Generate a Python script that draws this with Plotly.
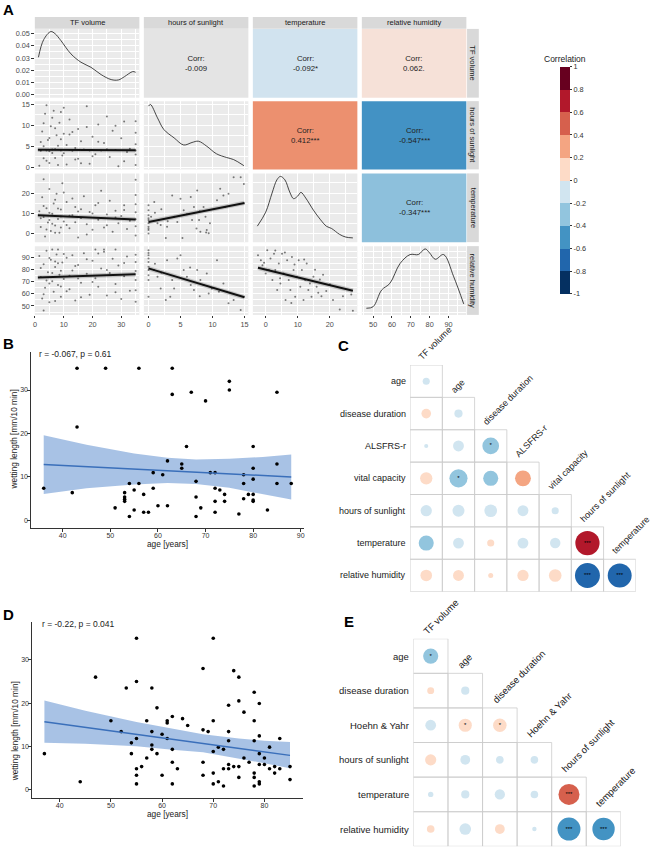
import plotly.graph_objects as go

W, H = 654, 849
FONT = "Liberation Sans, Arial, sans-serif"


def fx(p):
    return p / W


def fy(p):
    return 1 - p / H


# ======================= DATA =======================
# ---- Panel A (pairs plot) ----
pair_vars = ["TF volume", "hours of sunlight", "temperature", "relative humidity"]
corr_cells = [(0, 1), (0, 2), (0, 3), (1, 2), (1, 3), (2, 3)]
corr_values = [-0.009, -0.092, 0.062, 0.412, -0.547, -0.347]
corr_marks = ["", "*", ".", "***", "***", "***"]

# diagonal densities
tf_dens_x = [1.2, 3, 5.5, 7, 9, 12.5, 16, 19.5, 23, 26.5, 29, 31.1, 34, 35]
tf_dens_y = [0.0306, 0.045, 0.0518, 0.050, 0.0444, 0.0334, 0.0265, 0.0223, 0.0163,
             0.0122, 0.0119, 0.0146, 0.0188, 0.0182]
hs_dens_x = [0, 0.3, 1.4, 2.4, 4, 5.5, 6.8, 7.8, 9.1, 10.6, 12.2, 13.3, 14.9]
hs_dens_y = [14.6, 15.0, 11.8, 9.0, 7.0, 5.3, 5.9, 6.2, 5.0, 3.2, 2.3, 1.8, 0.34]
temp_dens_x = [-2.6, 0, 2, 3.5, 4.6, 6, 7.5, 8.7, 10, 11, 12.5, 14.9, 17, 19, 20.5, 23.1, 25, 27.2]
temp_dens_y = [3.6, 10.5, 20, 26.5, 28.2, 26.5, 20.5, 17.2, 18.5, 20.3, 17.5, 11.5, 7, 3.5,
               2.5, -0.5, -1.8, -2.2]
rh_dens_x = [46.4, 50, 54.5, 58.9, 64.3, 69.6, 74, 77.6, 80, 83, 87.4, 92.8, 98.1]
rh_dens_y = [48.1, 49.4, 63.2, 68.8, 85.3, 92.7, 92.7, 97.4, 94, 88.8, 92.7, 74.2, 51.7]

# scatter panels (x variable = column, y variable = row)
tf_hs = [(1.5, 0.3), (2, 4.1), (2.5, 8.5), (3, 2.1), (3.5, 12.8), (4, 4.0), (4.5, 6.5), (5, 1.0),
         (5.5, 9.8), (6, 3.4), (6.5, 13.5), (7, 4.3), (7.5, 7.6), (8, 0.5), (8.5, 10.6), (9, 4.0),
         (9.5, 2.8), (10, 8.0), (11, 5.3), (12, 11.4), (13, 3.9), (14, 1.8), (15, 9.1), (16, 6.2),
         (17, 4.2), (18, 14.6), (19, 0.8), (20, 7.3), (21, 3.1), (22, 10.2), (23, 4.0), (24, 5.8),
         (25, 12.1), (26, 2.4), (27, 8.7), (28, 4.1), (29, 0.2), (30, 6.9), (31, 10.9), (32, 3.6),
         (33, 4.4), (35, 0.5), (35, 3.0), (35, 5.5), (35, 8.2), (35, 11.0), (35, 4.0), (2, 6.0),
         (3, 10.5), (4, 1.5), (5, 7.0), (6, 11.8), (7, 2.2), (8, 5.1), (9, 13.2), (10, 3.3),
         (12, 7.8), (14, 4.6), (16, 0.9), (18, 9.6), (20, 2.6), (22, 6.1), (25, 4.3), (28, 9.9),
         (31, 1.4), (3, 5.0), (5, 3.8), (7, 9.3), (9, 6.7), (11, 0.6), (13, 8.4), (15, 2.0),
         (4, 14.8), (10, 14.2), (2, 3.9), (6, 4.2), (12, 4.1), (19, 4.0)]
tf_temp = [(1.5, 11.0), (2, 3.2), (2.5, 17.9), (3, 8.1), (3.5, -1.5), (4, 12.5), (4.5, 5.4),
           (5, 22.0), (5.5, 1.2), (6, 9.7), (6.5, 14.8), (7, 3.9), (7.5, 19.6), (8, 7.2), (8.5, 0.4),
           (9, 11.8), (9.5, 24.8), (10, 5.9), (11, 15.5), (12, 2.6), (13, 9.0), (14, 13.1),
           (15, -2.0), (16, 7.7), (17, 18.4), (18, 4.5), (19, 10.6), (20, 1.8), (21, 13.9),
           (22, 6.8), (23, 21.1), (24, 3.0), (25, 9.4), (26, 16.2), (27, 0.9), (28, 11.2),
           (29, 5.1), (30, 8.6), (31, 14.0), (32, 2.2), (33, 6.3), (35, -1.0), (35, 3.5), (35, 7.0),
           (35, 10.5), (35, 14.5), (35, 19.0), (35, 26.5), (2, 7.5), (3, 13.6), (4, 1.9), (5, 10.2),
           (6, 4.8), (7, 16.7), (8, 12.3), (9, 2.9), (10, 20.2), (12, 8.8), (14, 5.6), (16, 12.0),
           (18, -0.5), (20, 9.9), (22, 15.1), (25, 4.0), (28, 7.9), (31, 11.6), (3, 26.8), (5, 6.6),
           (7, 0.3), (9, 8.4), (11, 4.2), (13, 17.3), (15, 10.9)]
tf_rh = [(1.5, 91.5), (2, 74.0), (2.5, 56.3), (3, 84.7), (3.5, 65.2), (4, 95.8), (4.5, 78.1),
         (5, 53.0), (5.5, 88.4), (6, 70.6), (6.5, 61.9), (7, 82.3), (7.5, 92.8), (8, 67.5),
         (8.5, 75.9), (9, 57.7), (9.5, 86.2), (10, 72.4), (11, 90.1), (12, 63.8), (13, 79.5),
         (14, 54.6), (15, 84.0), (16, 69.3), (17, 93.7), (18, 76.8), (19, 59.4), (20, 87.5),
         (21, 73.1), (22, 65.9), (23, 81.2), (24, 95.1), (25, 58.6), (26, 77.4), (27, 89.3),
         (28, 68.2), (29, 83.6), (30, 55.8), (31, 74.7), (32, 91.0), (33, 62.7), (35, 53.5),
         (35, 63.0), (35, 71.5), (35, 79.0), (35, 86.5), (35, 92.5), (2, 81.6), (3, 59.8),
         (4, 71.2), (5, 89.9), (6, 77.3), (7, 54.1), (8, 85.4), (9, 66.1), (10, 93.2), (12, 75.0),
         (14, 83.2), (16, 57.3), (18, 88.9), (20, 70.0), (22, 93.6), (25, 79.8), (28, 61.4),
         (31, 85.7), (3, 46.2), (5, 68.7), (7, 87.0), (9, 79.2), (11, 62.3), (13, 92.1), (15, 72.8),
         (6, 97.0), (8, 97.0), (21, 97.0), (24, 97.0), (28, 97.0)]
hs_temp = [(0, 13.9), (0, 11.5), (0, 9.0), (0, 6.6), (0, 5.0), (0, 3.3), (0, 1.7), (0, 0.0),
           (0.4, 8.2), (0.9, 15.5), (1.4, 5.0), (1.9, 4.2), (2.7, -2.3), (2.9, 3.3), (3.7, 18.8),
           (4.0, 8.2), (4.5, 5.7), (5.0, 17.2), (5.3, -2.3), (5.5, 11.5), (6.6, 18.0), (6.8, 6.6),
           (7.1, 13.1), (7.6, 21.3), (7.9, 6.6), (8.1, 0.9), (8.6, 13.1), (8.9, 8.2), (9.1, 1.7),
           (9.4, 0.1), (9.6, 5.0), (10.7, 16.4), (11.2, 22.1), (11.7, 18.8), (12.5, 19.6),
           (13.3, 27.8), (14.4, 27.8), (14.9, 24.5), (12.0, 13.1), (0, 7.5), (0, 2.5), (1.0, 10.2),
           (2.0, 12.0), (3.0, 6.0), (6.0, 9.5), (7.5, 2.5), (8.0, 11.0), (9.0, 0.5)]
hs_rh = [(0, 96.3), (0, 92.1), (0, 89.4), (0, 86.6), (0, 82.5), (0, 79.8), (0, 75.6), (0, 71.5),
         (0, 57.7), (0.9, 79.8), (1.4, 74.3), (1.9, 64.6), (2.7, 55.0), (2.9, 88.0), (3.7, 71.5),
         (4.0, 64.6), (4.5, 89.4), (5.0, 92.1), (5.5, 79.8), (6.0, 74.3), (6.6, 67.4), (7.1, 63.2),
         (7.6, 79.8), (8.1, 71.5), (8.6, 67.4), (9.1, 77.0), (9.4, 60.4), (9.9, 64.6), (10.7, 88.0),
         (11.0, 61.8), (11.7, 68.7), (12.5, 52.2), (13.3, 55.0), (14.4, 46.7), (3.4, 57.7),
         (0, 94.0), (1.0, 85.0), (2.0, 77.5), (6.5, 82.0), (8.0, 58.0)]
temp_rh = [(-2.4, 92.1), (-1.5, 88.0), (-1, 83.9), (0, 77.0), (0.5, 96.3), (1.0, 79.8), (1.5, 89.4),
           (2.1, 71.5), (2.6, 93.4), (3.0, 79.8), (3.6, 63.2), (4.1, 85.2), (4.6, 68.7), (5.1, 93.4),
           (5.6, 77.0), (6.2, 55.0), (6.7, 88.0), (7.2, 71.5), (7.7, 63.2), (8.2, 90.7), (8.7, 79.8),
           (9.2, 57.7), (9.7, 74.3), (10.3, 88.0), (10.8, 65.9), (11.3, 79.8), (11.8, 55.0),
           (12.3, 71.5), (12.8, 85.2), (13.3, 63.2), (13.8, 68.7), (14.3, 57.7), (14.9, 74.3),
           (15.4, 80.0), (15.9, 66.0), (16.4, 61.0), (16.9, 72.0), (17.4, 58.0), (17.9, 76.0),
           (18.9, 62.5), (20.0, 68.0), (21.0, 55.0), (23.1, 47.0), (24.1, 58.0), (26.7, 59.5),
           (27.2, 46.0), (3.0, 96.0), (6.0, 94.5), (9.0, 84.5), (12.0, 88.5), (-0.5, 86.0),
           (4.5, 73.0), (8.0, 52.5)]
# fitted lines in scatter panels (x ends, y ends)
fit_tf_hs = ([1, 35], [4.15, 4.05])
fit_tf_temp = ([1, 35], [9.0, 6.9])
fit_tf_rh = ([1, 35], [73.7, 76.4])
fit_hs_temp = ([0, 15], [5.7, 15.1])
fit_hs_rh = ([0, 15], [81.2, 57.2])
fit_temp_rh = ([-2.4, 27.2], [81.7, 62.6])

# colour legend
legend_breaks = [1, 0.8, 0.6, 0.4, 0.2, 0, -0.2, -0.4, -0.6, -0.8, -1]
legend_labels = ["1", "0.8", "0.6", "0.4", "0.2", "0", "-0.2", "-0.4", "-0.6", "-0.8", "-1"]

# ---- Panel B ----
b_age = [36, 43, 49, 56, 63, 75, 75, 85, 67, 63, 70, 43, 42, 66, 80, 62, 65, 65, 85, 80, 59, 61, 71,
         72, 78, 80, 68, 54, 56, 78, 85, 88, 59, 72, 73, 55, 53, 57, 74, 79, 80, 53, 53, 53, 68, 78,
         72, 74, 80, 80, 60, 62, 51, 69, 55, 83, 57, 58, 72, 77, 54, 68]
b_wet = [7.4, 35, 35, 35, 35, 32, 30, 29.5, 29.5, 29, 27.5, 21.5, 6.4, 17, 17, 13.7, 13, 12, 13, 12,
         11, 10.5, 11, 11, 10.5, 9.5, 9, 8.5, 8.5, 8.5, 8.5, 8.5, 7.4, 7.4, 7, 7, 6.4, 6, 6, 6, 6,
         5.4, 4.9, 4.4, 5.4, 5, 4.4, 4.4, 4.7, 4.4, 3.4, 3.4, 2.9, 2.9, 2.4, 2.4, 1.9, 1.9, 1.9,
         1.5, 0.9, 0.9]
b_fit_age = [36, 45, 55, 62, 68, 75, 82, 88]
b_fit = [12.9, 12.4, 11.8, 11.4, 11.1, 10.7, 10.3, 10.0]
b_fit_hi = [19.6, 17.4, 15.4, 14.4, 14.0, 14.2, 14.6, 15.2]
b_fit_lo = [6.1, 7.4, 8.3, 8.6, 8.4, 7.5, 6.1, 4.8]
b_label = "r = -0.067, p = 0.61"

# ---- Panel D ----
d_age = [37, 44, 47, 50, 52, 53, 54, 54, 55, 55, 55, 55, 55, 55, 56, 57, 57, 58, 58, 58, 58, 59, 59,
         60, 60, 61, 61, 61, 62, 62, 62, 62, 63, 64, 65, 68, 68, 68, 68, 69, 70, 70, 70, 70, 70, 71,
         71, 72, 72, 72, 73, 73, 73, 73, 73, 74, 74, 75, 75, 75, 75, 76, 76, 77, 78, 78, 78, 78, 78,
         78, 79, 79, 79, 79, 79, 79, 80, 80, 81, 81, 82, 82, 83, 83, 85, 85]
d_wet = [8.3, 1.8, 26, 15.9, 13.4, 23.5, 10.8, 8.3, 35, 25, 11.8, 4.8, 3.3, 1.3, 5.3, 15.9, 7.3,
         23.5, 13.4, 10.3, 9.3, 18.9, 8.3, 12.8, 3.3, 15.9, 15.4, 11.8, 16.9, 9.3, 6.3, 1.3, 4.8,
         16.4, 14.8, 28, 13.8, 6.3, 3.3, 13.4, 35, 15.9, 8.8, 3.8, 1.3, 9.8, 1.8, 9.3, 4.8, 0.8,
         19.5, 13.4, 11.3, 5.8, 4.8, 27.5, 5.3, 26, 20.5, 5.3, 2.8, 17.9, 7.3, 6.3, 22.5, 15.9,
         11.3, 3.8, 2.8, 0.8, 19.9, 12.4, 8.3, 5.8, 1.8, 1.3, 7.3, 5.8, 9.8, 4.8, 5.3, 3.8, 11.8,
         4.8, 5.3, 2.3]
d_fit_age = [37, 45, 55, 62, 68, 75, 80, 85]
d_fit = [15.7, 14.4, 12.8, 11.6, 10.7, 9.5, 8.7, 7.9]
d_fit_hi = [20.6, 18.2, 15.6, 14.0, 12.8, 11.8, 11.3, 11.0]
d_fit_lo = [10.8, 10.6, 10.0, 9.2, 8.6, 7.2, 6.1, 4.9]
d_label = "r = -0.22, p = 0.041"

# ---- Panel C (correlogram) ----
c_rows = ["age", "disease duration", "ALSFRS-r", "vital capacity", "hours of sunlight",
          "temperature", "relative humidity"]
c_cols = ["TF volume", "age", "disease duration", "ALSFRS-r", "vital capacity",
          "hours of sunlight", "temperature"]
c_r = [[-0.06],
       [0.11, -0.08],
       [-0.02, -0.14, -0.33],
       [0.18, -0.39, -0.27, 0.30],
       [-0.15, -0.17, -0.19, -0.14, -0.06],
       [-0.27, -0.14, 0.06, -0.14, -0.13, 0.70],
       [0.16, 0.14, 0.03, 0.15, 0.19, -0.74, -0.68]]
c_sig = [[""], ["", ""], ["", "", "*"], ["", "*", "", ""], ["", "", "", "", ""],
         ["", "", "", "", "", "***"], ["", "", "", "", "", "***", "***"]]

# ---- Panel E (correlogram) ----
e_rows = ["age", "disease duration", "Hoehn & Yahr", "hours of sunlight", "temperature",
          "relative humidity"]
e_cols = ["TF volume", "age", "disease duration", "Hoehn & Yahr", "hours of sunlight",
          "temperature"]
e_r = [[-0.24],
       [0.05, -0.07],
       [-0.12, 0.18, 0.19],
       [0.13, -0.10, -0.06, -0.06],
       [-0.03, -0.07, -0.11, -0.06, 0.46],
       [0.06, -0.14, 0.10, -0.02, -0.55, -0.52]]
e_sig = [["*"], ["", ""], ["", "*", "*"], ["", "", "", ""], ["", "", "", "", "***"],
         ["", "", "", "", "***", "***"]]

# ======================= STYLE =======================
RDBU = ["#053061", "#2166AC", "#4393C3", "#92C5DE", "#D1E5F0",
        "#FDDBC7", "#F4A582", "#D6604D", "#B2182B", "#67001F"]
tile_colors = ["#E4E4E4", "#D1E3EF", "#F6E1D8", "#EC906F", "#4392C4", "#8DC0DC"]


def rdbu(r):
    k = int((r + 1) / 0.2)
    return RDBU[max(0, min(9, k))]


layout = {}
shapes = []
annotations = []
traces = []
ax_n = [0]


def new_axes(xd, yd, xkw, ykw):
    ax_n[0] += 1
    n = ax_n[0]
    s = "" if n == 1 else str(n)
    layout["xaxis" + s] = dict(domain=xd, anchor="y" + s, **xkw)
    layout["yaxis" + s] = dict(domain=yd, anchor="x" + s, **ykw)
    return "x" + s, "y" + s


def text(x, y, t, size, color="#1A1A1A", xa="center", ya="middle", angle=0, bold=False):
    annotations.append(dict(x=fx(x), y=fy(y), xref="paper", yref="paper",
                            text=("<b>%s</b>" % t) if bold else t, borderpad=0,
                            showarrow=False, xanchor=xa, yanchor=ya, textangle=angle,
                            font=dict(size=size, color=color, family=FONT)))


# ======================= PANEL A =======================
cols_px = [(33, 138), (142.5, 247.5), (252, 357), (361.5, 466.5)]
rows_px = [(28, 97), (100.5, 169), (173, 242), (246, 315)]
xr = [(-0.05, 36.3), (-0.73, 15.6), (-4, 28.6), (44, 99.5)]
yr = [(-0.0027, 0.054), (-0.55, 15.8), (-4.3, 29.7), (42.6, 99.7)]
xt = [(0, 10), (0, 5), (0, 10), (50, 10)]
yt = [(0, 0.01), (0, 5), (0, 10), (50, 10)]
diag = {0: (tf_dens_x, tf_dens_y), 1: (hs_dens_x, hs_dens_y),
        2: (temp_dens_x, temp_dens_y), 3: (rh_dens_x, rh_dens_y)}
lower = {(1, 0): (tf_hs, fit_tf_hs), (2, 0): (tf_temp, fit_tf_temp), (3, 0): (tf_rh, fit_tf_rh),
         (2, 1): (hs_temp, fit_hs_temp), (3, 1): (hs_rh, fit_hs_rh), (3, 2): (temp_rh, fit_temp_rh)}

tickfontA = dict(size=7.3, color="#4D4D4D", family=FONT)
first_ref = None
for i in range(4):
    for j in range(4):
        (x0, x1), (y0, y1) = cols_px[j], rows_px[i]
        if j > i:
            k = corr_cells.index((i, j))
            shapes.append(dict(type="rect", xref="paper", yref="paper", x0=fx(x0), x1=fx(x1),
                               y0=fy(y1), y1=fy(y0), fillcolor=tile_colors[k], line=dict(width=0),
                               layer="below"))
            text((x0 + x1) / 2, (y0 + y1) / 2,
                 "Corr:<br>%s%s" % (("%.3f" % corr_values[k]), corr_marks[k]), 7.8, "#222222")
            continue
        xkw = dict(range=list(xr[j]), tickmode="linear", tick0=xt[j][0], dtick=xt[j][1],
                   showgrid=True, gridcolor="white", gridwidth=1, zeroline=False,
                   minor=dict(showgrid=True, gridcolor="white", gridwidth=0.5,
                              tick0=xt[j][0], dtick=xt[j][1] / 2),
                   showticklabels=(i == 3), ticks="outside" if i == 3 else "", ticklen=2.5,
                   tickcolor="#333333", tickwidth=0.8, tickfont=tickfontA, showline=False)
        ykw = dict(range=list(yr[i]), tickmode="linear", tick0=yt[i][0], dtick=yt[i][1],
                   showgrid=True, gridcolor="white", gridwidth=1, zeroline=False,
                   minor=dict(showgrid=True, gridcolor="white", gridwidth=0.5,
                              tick0=yt[i][0], dtick=yt[i][1] / 2),
                   showticklabels=(j == 0), ticks="outside" if j == 0 else "", ticklen=2.5,
                   tickcolor="#333333", tickwidth=0.8, tickfont=tickfontA, showline=False,
                   tickformat=".2f" if i == 0 else "")
        xa, ya = new_axes([fx(x0), fx(x1)], [fy(y1), fy(y0)], xkw, ykw)
        if first_ref is None:
            first_ref = (xa, ya)
        shapes.append(dict(type="rect", xref=xa + " domain", yref=ya + " domain", x0=0, x1=1,
                           y0=0, y1=1, fillcolor="#EBEBEB", line=dict(width=0), layer="below"))
        if i == j:
            dxv, dyv = diag[i]
            traces.append(go.Scatter(x=dxv, y=dyv, mode="lines", line=dict(color="#1A1A1A", width=0.8,
                                     shape="spline", smoothing=1.0), xaxis=xa, yaxis=ya,
                                     hoverinfo="skip"))
        else:
            pts, fit = lower[(i, j)]
            traces.append(go.Scatter(x=[p[0] for p in pts], y=[p[1] for p in pts], mode="markers",
                                     marker=dict(size=2, color="rgba(0,0,0,0.5)"), xaxis=xa, yaxis=ya,
                                     hoverinfo="skip"))
            traces.append(go.Scatter(x=fit[0], y=fit[1], mode="lines",
                                     line=dict(color="rgba(0,0,0,0.18)", width=4.5), xaxis=xa,
                                     yaxis=ya, hoverinfo="skip"))
            traces.append(go.Scatter(x=fit[0], y=fit[1], mode="lines",
                                     line=dict(color="#111111", width=2), xaxis=xa, yaxis=ya,
                                     hoverinfo="skip"))

# strips
for j in range(4):
    x0, x1 = cols_px[j]
    shapes.append(dict(type="rect", xref="paper", yref="paper", x0=fx(x0), x1=fx(x1), y0=fy(27.8),
                       y1=fy(16), fillcolor="#D9D9D9", line=dict(width=0)))
    text((x0 + x1) / 2, 22, pair_vars[j], 7.5, "#1A1A1A")
for i in range(4):
    y0, y1 = rows_px[i]
    shapes.append(dict(type="rect", xref="paper", yref="paper", x0=fx(467.2), x1=fx(479),
                       y0=fy(y1), y1=fy(y0), fillcolor="#D9D9D9", line=dict(width=0)))
    text(473.1, (y0 + y1) / 2, pair_vars[i], 7.5, "#1A1A1A", angle=90)

# colour legend
cs = []
for k, c in enumerate(RDBU):
    cs.append([k / 10, c])
    cs.append([(k + 1) / 10, c])
traces.append(go.Scatter(x=[None], y=[None], mode="markers", xaxis=first_ref[0], yaxis=first_ref[1],
                         hoverinfo="skip",
                         marker=dict(color=[0], cmin=-1, cmax=1, colorscale=cs, showscale=True,
                                     colorbar=dict(x=fx(561), xanchor="left", y=fy(180),
                                                   yanchor="middle", len=228 / H, lenmode="fraction",
                                                   thickness=10, thicknessmode="pixels",
                                                   outlinewidth=0, xpad=0, ypad=0,
                                                   tickvals=legend_breaks, ticktext=legend_labels,
                                                   ticks="outside", ticklen=2.5, tickcolor="#333333",
                                                   tickfont=dict(size=7.3, color="#333333",
                                                                 family=FONT)))))
text(566, 58, "Correlation", 8.5, "#1A1A1A")


# ======================= PANELS B & D =======================
def scatter_panel(xpx, ypx, xrange, yrange, xticks, ages, wet, fa, ff, fhi, flo, label, lab_xy,
                  title_x_y, title_y_xy):
    axkw = dict(showgrid=False, zeroline=False, showline=True, linecolor="#333333", linewidth=0.9,
                ticks="outside", ticklen=2.5, tickwidth=0.8, tickcolor="#333333",
                ticklabelstandoff=-2,
                tickfont=dict(size=7, color="#333333", family=FONT))
    xa, ya = new_axes([fx(xpx[0]), fx(xpx[1])], [fy(ypx[1]), fy(ypx[0])],
                      dict(range=xrange, tickvals=xticks, **axkw),
                      dict(range=yrange, tickvals=[0, 10, 20, 30], **axkw))
    traces.append(go.Scatter(x=fa + fa[::-1], y=fhi + flo[::-1], fill="toself",
                             fillcolor="rgba(62,120,198,0.45)", line=dict(width=0), mode="lines",
                             xaxis=xa, yaxis=ya, hoverinfo="skip"))
    traces.append(go.Scatter(x=ages, y=wet, mode="markers", marker=dict(size=3.6, color="black"),
                             xaxis=xa, yaxis=ya, hoverinfo="skip"))
    traces.append(go.Scatter(x=fa, y=ff, mode="lines", line=dict(color="#3A6FBA", width=1.5),
                             xaxis=xa, yaxis=ya, hoverinfo="skip"))
    text(lab_xy[0], lab_xy[1], label, 8.5, "#1A1A1A", xa="left")
    text(title_x_y[0], title_x_y[1], "age [years]", 8.3, "#1A1A1A")
    text(title_y_xy[0], title_y_xy[1], "wetting length [mm/10 min]", 8.3, "#1A1A1A", angle=-90)


scatter_panel((29, 303), (352, 529), [33.3, 90.6], [-1.76, 38.8], [40, 50, 60, 70, 80, 90],
              b_age, b_wet, b_fit_age, b_fit, b_fit_hi, b_fit_lo, b_label, (36, 354.5),
              (166, 545), (13, 440))
scatter_panel((30, 302.7), (623, 800), [34.55, 87.6], [-2.0, 38.8], [40, 50, 60, 70, 80],
              d_age, d_wet, d_fit_age, d_fit, d_fit_hi, d_fit_lo, d_label, (39.5, 625.5),
              (166, 816), (13, 733))


# ======================= PANELS C & E =======================
def corr_panel(x0, y0, cw, ch, rows, cols, rr, sig, dmax, fsize):
    n = len(rows)
    xa, ya = new_axes([fx(x0), fx(x0 + n * cw)], [fy(y0 + n * ch), fy(y0)],
                      dict(range=[-0.5, n - 0.5], visible=False),
                      dict(range=[n - 0.5, -0.5], visible=False))
    xs, ys, sz, colr, st = [], [], [], [], []
    for i in range(n):
        for j in range(i + 1):
            shapes.append(dict(type="rect", xref=xa, yref=ya, x0=j - 0.5, x1=j + 0.5, y0=i - 0.5,
                               y1=i + 0.5, line=dict(color="#CCCCCC", width=0.8),
                               fillcolor="rgba(0,0,0,0)", layer="below"))
            r = rr[i][j]
            xs.append(j)
            ys.append(i)
            sz.append(dmax * abs(r) ** 0.5)
            colr.append(rdbu(r))
            st.append(sig[i][j])
    traces.append(go.Scatter(x=xs, y=ys, mode="markers+text", text=st, textposition="middle center",
                             textfont=dict(size=6, color="black", family=FONT),
                             marker=dict(size=sz, color=colr, opacity=1, line=dict(width=0)),
                             xaxis=xa, yaxis=ya, hoverinfo="skip"))
    for i, name in enumerate(rows):
        text(x0 - 3, y0 + (i + 0.5) * ch, name, fsize, "#1A1A1A", xa="right")
    for j, name in enumerate(cols):
        text(x0 + (j + 0.5) * cw - 11, y0 + j * ch - 1.5, name, fsize, "#1A1A1A", xa="left",
             ya="bottom", angle=-45)


corr_panel(410, 365.3, 32.39, 32.49, c_rows, c_cols, c_r, c_sig, 29, 9)
corr_panel(413.3, 640, 34.73, 34.72, e_rows, e_cols, e_r, e_sig, 31, 9.5)

# panel letters
text(0, 8.5, "A", 15, "black", xa="left", bold=True)
text(0, 343.5, "B", 15, "black", xa="left", bold=True)
text(337, 346, "C", 15, "black", xa="left", bold=True)
text(0, 615.5, "D", 15, "black", xa="left", bold=True)
text(343, 622.5, "E", 15, "black", xa="left", bold=True)

fig = go.Figure(data=traces)
fig.update_layout(**layout)
fig.update_layout(width=W, height=H, margin=dict(l=0, r=0, t=0, b=0), autosize=False,
                  paper_bgcolor="white", plot_bgcolor="white", showlegend=False,
                  font=dict(family=FONT, size=8, color="#1A1A1A"), shapes=shapes,
                  annotations=annotations)
fig.write_html("out.html", config={"displayModeBar": False},
               post_script="document.body.style.margin='0px';document.body.style.overflow='hidden';")
